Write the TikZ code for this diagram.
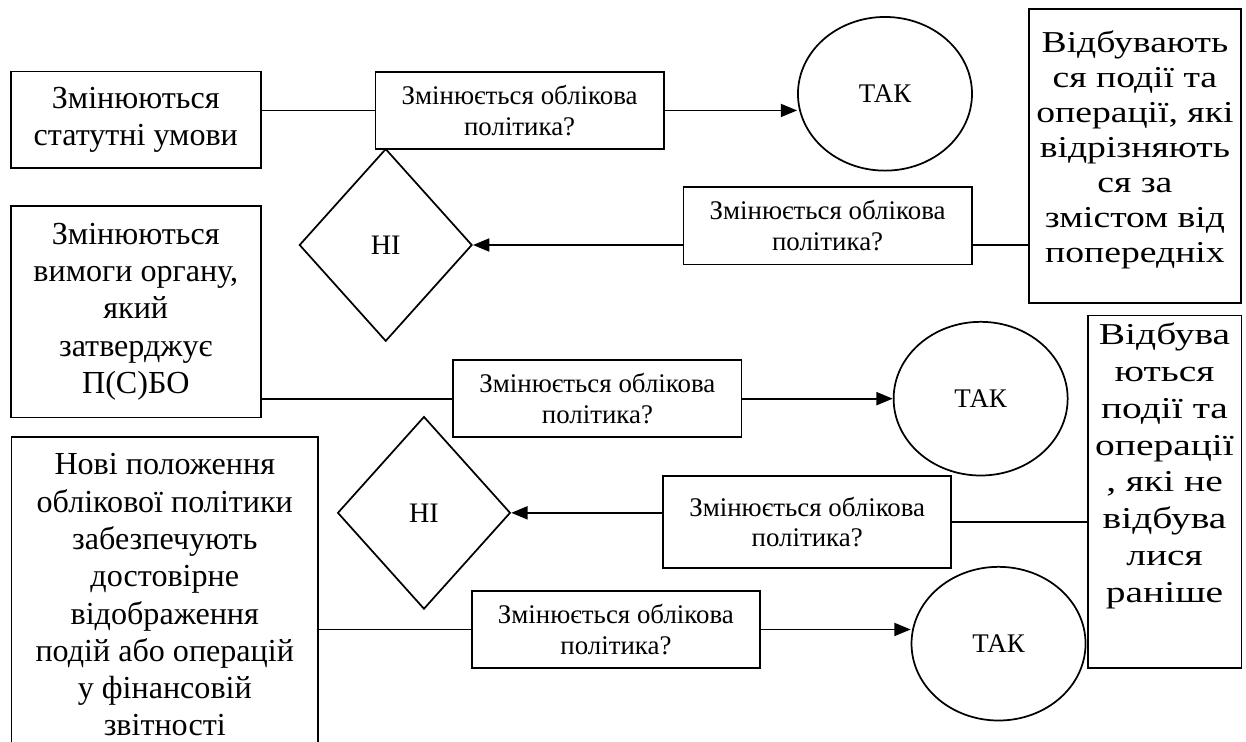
\documentclass[tikz,border=0pt]{standalone}
\usepackage{fontspec}
\setmainfont{Liberation Serif}
\newfontfamily\widefont[FakeStretch=1.24]{Liberation Serif}
\newfontfamily\widerfont[FakeStretch=1.3]{Liberation Serif}
\usepackage{tikz}
\usetikzlibrary{shapes.geometric}
\usetikzlibrary{arrows.meta}
\tikzstyle{cond} = [rectangle, draw=black, thick, align=center, inner xsep=0pt, font=\fontsize{14.8}{17.2}\selectfont]
\tikzstyle{quest} = [rectangle, draw=black, thick, align=center, minimum width=4.67cm, minimum height=1.25cm, font=\fontsize{12.4}{14.2}\selectfont]
\tikzstyle{yesnode} = [ellipse, draw=black, thick, minimum width=2.82cm, minimum height=2.49cm, font=\fontsize{12.4}{14}\selectfont]
\tikzstyle{nonode} = [diamond, draw=black, thick, inner sep=0pt, minimum width=2.8cm, minimum height=3.12cm, font=\fontsize{13}{15}\selectfont]

\begin{document}
\begin{tikzpicture}[>={Triangle[length=7.5pt,width=6pt]}]

\useasboundingbox (0,0) rectangle (20.19,-12.02);
\clip (0,0) rectangle (20.19,-12.02);

% left column
\node (statut) [cond, minimum width=4.05cm, minimum height=1.56cm] at (2.20,-1.94) {Змінюються\\статутні умови};
\node (organ) [cond, minimum width=4.05cm, minimum height=3.43cm] at (2.20,-5.05) {Змінюються\\вимоги органу,\\який\\затверджує\\П(С)БО};
\node (novi) [cond, minimum width=4.97cm, minimum height=5.12cm] at (2.67,-9.64) {Нові положення\\облікової політики\\забезпечують\\достовірне\\відображення\\подій або операцій\\у фінансовій\\звітності};

% right column
\node (podii1) [cond, font=\widefont\fontsize{14}{16.1}\selectfont, minimum width=3.43cm, minimum height=4.76cm, text depth=9pt] at (18.39,-2.53) {Відбувають\\ся події та\\операції, які\\відрізняють\\ся за\\змістом від\\попередніх};
\node (podii2) [cond, font=\widerfont\fontsize{14}{17}\selectfont, minimum width=2.49cm, minimum height=5.70cm, text depth=27pt] at (18.87,-7.97) {Відбува\\ються\\події та\\операції\\, які не\\відбува\\лися\\раніше};

% questions
\node (q1) [quest] at (8.42,-1.79) {Змінюється облікова\\політика?};
\node (q2) [quest] at (13.41,-3.66) {Змінюється облікова\\політика?};
\node (q3) [quest] at (9.68,-6.46) {Змінюється облікова\\політика?};
\node (q4) [quest, minimum height=1.49cm] at (13.08,-8.46) {Змінюється облікова\\політика?};
\node (q5) [quest] at (9.98,-10.20) {Змінюється облікова\\політика?};

% answers
\node (tak1) [yesnode] at (14.34,-1.52) {ТАК};
\node (tak2) [yesnode] at (15.89,-6.46) {ТАК};
\node (tak3) [yesnode] at (16.18,-10.43) {ТАК};
\node (ni1) [nonode] at (6.25,-3.97) {НІ};
\node (ni2) [nonode] at (6.87,-8.31) {НІ};

\draw[thick] (q1.west -| statut.east) -- (q1.west);
\draw[thick,->] (q1.east) -- (q1.east -| tak1.west);
\draw[thick] (podii1.west |- ni1.east) -- (q2.east |- ni1.east);
\draw[thick,->] (q2.west |- ni1.east) -- (ni1.east);
\draw[thick] (q3.west -| organ.east) -- (q3.west);
\draw[thick,->] (q3.east) -- (q3.east -| tak2.west);
\draw[thick] (q4.east -| podii2.west) -- (q4.east);
\draw[thick,->] (q4.west |- ni2.east) -- (ni2.east);
\draw[thick] (q5.west -| novi.east) -- (q5.west);
\draw[thick,->] (q5.east) -- (q5.east -| tak3.west);

\end{tikzpicture}
\end{document}
